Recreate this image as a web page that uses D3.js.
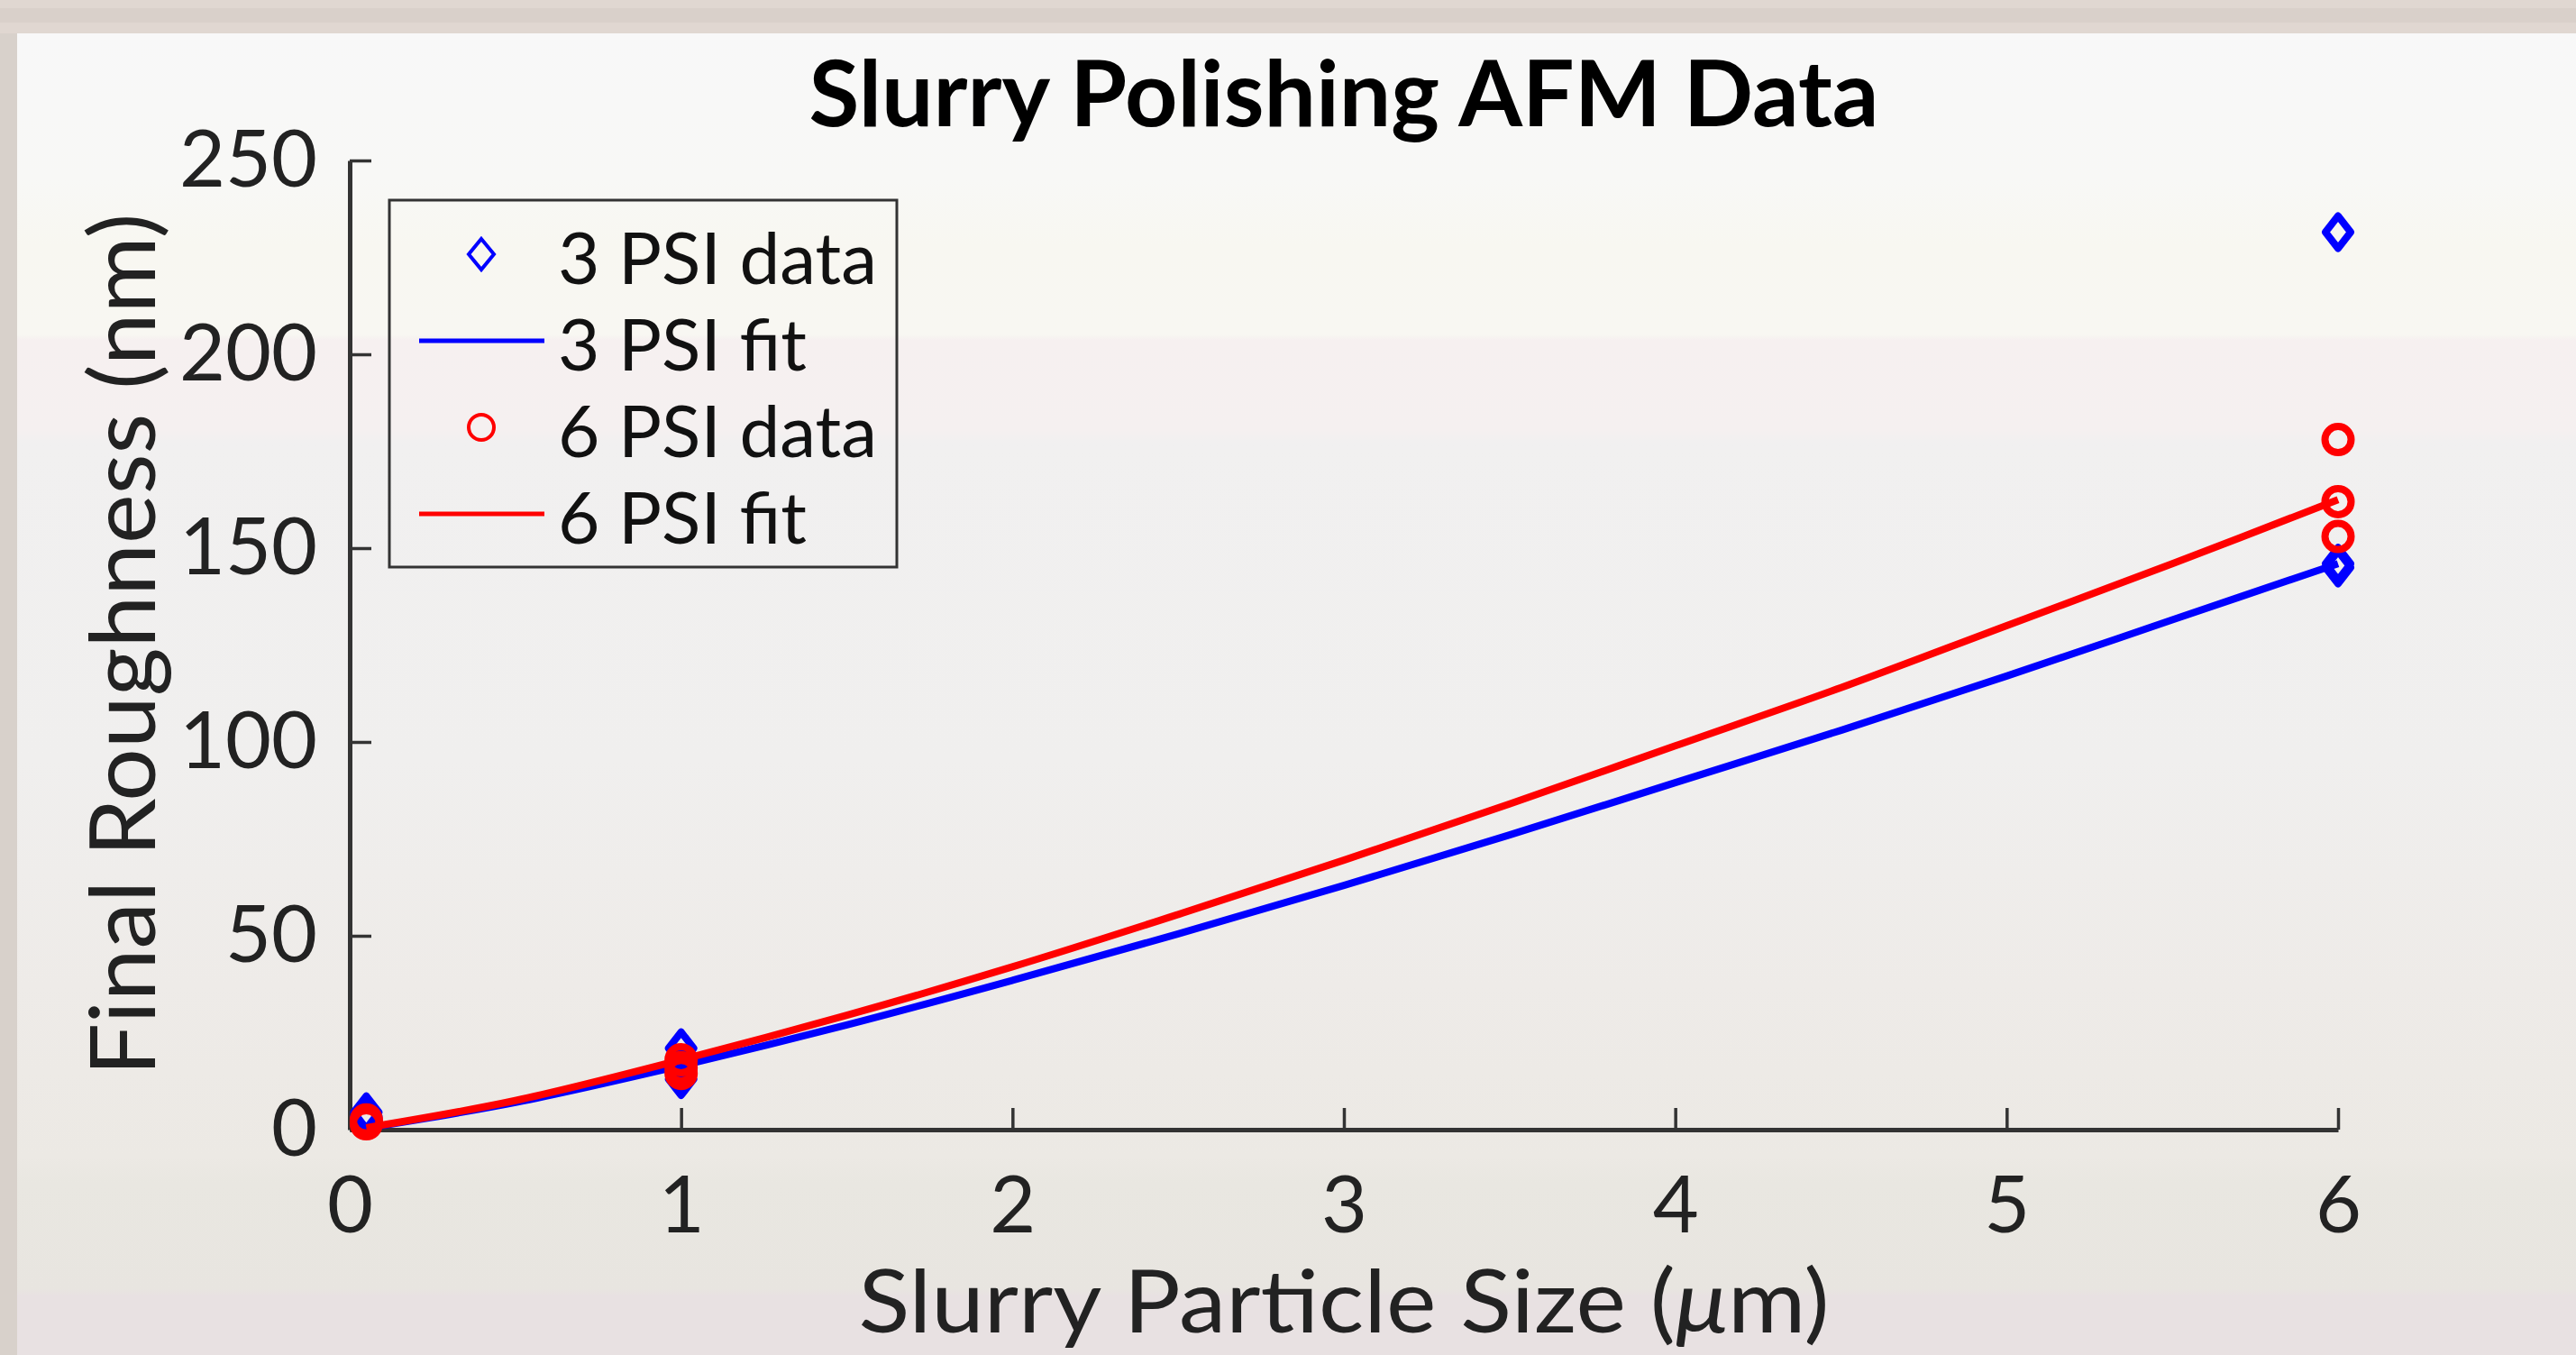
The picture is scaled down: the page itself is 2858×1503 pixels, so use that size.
<!DOCTYPE html>
<html>
<head>
<meta charset="utf-8">
<script src="https://cdn.jsdelivr.net/npm/d3@7"></script>
<style>
  html, body { margin: 0; padding: 0; background: #d8d1cb; }
  svg { display: block; }
</style>
</head>
<body>
<svg id="chart" width="2858" height="1503"></svg>
<script>
// ---------------- DATA ----------------
const xTicks = [0, 1, 2, 3, 4, 5, 6];
const yTicks = [0, 50, 100, 150, 200, 250];

const psi3DataX = [0.05, 0.05, 0.05, 1, 1, 1, 6, 6, 6];
const psi3DataY = [4.5, 3.5, 3, 21, 17, 13, 231.5, 146, 145];

const psi6DataX = [0.05, 0.05, 0.05, 1, 1, 1, 6, 6, 6];
const psi6DataY = [2, 1.5, 2.5, 18, 16, 14.5, 178, 162, 153];

const fitX   = [0.05, 0.5, 1, 1.5, 2, 2.5, 3, 3.5, 4, 4.5, 5, 5.5, 6];
const fit3Y  = [0.4, 7, 16.5, 27, 38.5, 50.5, 63, 76, 89.5, 103, 117, 131.5, 146];
const fit6Y  = [0.5, 7.5, 18, 29.5, 42, 55.5, 69.5, 84, 99, 114, 130, 146, 162.5];

const legendLabels = ["3 PSI data", "3 PSI fit", "6 PSI data", "6 PSI fit"];
const titleText = "Slurry Polishing AFM Data";
const yLabelText = "Final Roughness (nm)";

// ---------------- DRAW ----------------
const W = 2858, H = 1503;
const svg = d3.select("#chart");
const FONT = "Lato, 'Open Sans', 'DejaVu Sans', sans-serif";
const BLUE = "#0000ff", RED = "#ff0000", AX = "#333333";

const defs = svg.append("defs");
const grad = defs.append("linearGradient").attr("id", "bg")
  .attr("gradientUnits", "userSpaceOnUse")
  .attr("x1", 0).attr("x2", 0).attr("y1", 37).attr("y2", H);
[[0, "#f8f8f8"], [0.11, "#f8f8f6"], [0.16, "#f8f7f1"], [0.228, "#f8f7f2"],
 [0.232, "#f6f0f0"], [0.30, "#f5f0f0"], [0.31, "#f1f0f0"], [0.55, "#f0efee"],
 [0.72, "#eeebe8"], [0.85, "#ece9e4"], [0.87, "#e9e7e1"], [0.95, "#e8e5e0"],
 [0.955, "#e8e1e2"], [1, "#e8e1e2"]].forEach(([o, c]) =>
  grad.append("stop").attr("offset", o).attr("stop-color", c));

// outer frame
svg.append("rect").attr("width", W).attr("height", H).attr("fill", "#d8d1cb");
svg.append("rect").attr("x", 0).attr("y", 0).attr("width", W).attr("height", 9).attr("fill", "#e0d7d1");
svg.append("rect").attr("x", 0).attr("y", 9).attr("width", W).attr("height", 16).attr("fill", "#d9d0ca");
svg.append("rect").attr("x", 0).attr("y", 25).attr("width", W).attr("height", 12).attr("fill", "#e0d7d1");
// inner figure
svg.append("rect").attr("x", 19).attr("y", 37).attr("width", W - 19).attr("height", H - 37)
  .attr("fill", "url(#bg)");

const x = d3.scaleLinear().domain([0, 6]).range([388, 2594]);
const y = d3.scaleLinear().domain([0, 250]).range([1253, 178]);

// axes
const gx = svg.append("g").attr("transform", `translate(0,${y(0)})`)
  .call(d3.axisBottom(x).tickValues(xTicks).tickFormat(d3.format("d"))
    .tickSize(-24).tickSizeOuter(0).tickPadding(52));
const gy = svg.append("g").attr("transform", `translate(${x(0)},0)`)
  .call(d3.axisLeft(y).tickValues(yTicks).tickFormat(d3.format("d"))
    .tickSize(-24).tickSizeOuter(0).tickPadding(36));
[gx, gy].forEach(g => {
  g.attr("font-family", FONT).attr("font-size", 88);
  g.select(".domain").attr("stroke", AX).attr("stroke-width", 5);
  g.selectAll(".tick line").attr("stroke", AX).attr("stroke-width", 3.5);
  g.selectAll(".tick text").attr("fill", "#222");
});

// fit lines & markers
const line = d3.line().x((d, i) => x(fitX[i])).y(d => y(d)).curve(d3.curveCatmullRom.alpha(0.5));
function diamondPath(cx, cy, hw, hh) {
  const p = d3.path();
  p.moveTo(cx, cy - hh); p.lineTo(cx + hw, cy); p.lineTo(cx, cy + hh); p.lineTo(cx - hw, cy); p.closePath();
  return p.toString();
}

// 3 PSI data
svg.append("g").selectAll("path").data(psi3DataY).join("path")
  .attr("d", (d, i) => diamondPath(x(psi3DataX[i]), y(d), 14, 18))
  .attr("fill", "none").attr("stroke", BLUE).attr("stroke-width", 8).attr("stroke-linejoin", "round");
// 3 PSI fit
svg.append("path").datum(fit3Y).attr("d", line)
  .attr("fill", "none").attr("stroke", BLUE).attr("stroke-width", 8);
// 6 PSI data
svg.append("g").selectAll("circle").data(psi6DataY).join("circle")
  .attr("cx", (d, i) => x(psi6DataX[i])).attr("cy", d => y(d)).attr("r", 14.5)
  .attr("fill", "none").attr("stroke", RED).attr("stroke-width", 8);
// 6 PSI fit
svg.append("path").datum(fit6Y).attr("d", line)
  .attr("fill", "none").attr("stroke", RED).attr("stroke-width", 8);

// title
svg.append("text").attr("x", 1491).attr("y", 140)
  .attr("text-anchor", "middle").attr("font-family", FONT).attr("font-weight", "bold")
  .attr("font-size", 102).attr("fill", "#000")
  .attr("textLength", 1187).attr("lengthAdjust", "spacingAndGlyphs")
  .text(titleText);

// y label
svg.append("text").attr("transform", "translate(172,715) rotate(-90)")
  .attr("text-anchor", "middle").attr("font-family", FONT).attr("font-size", 100)
  .attr("fill", "#222").attr("textLength", 957).attr("lengthAdjust", "spacingAndGlyphs")
  .text(yLabelText);

// x label
const xl = svg.append("text").attr("x", 1491).attr("y", 1478)
  .attr("text-anchor", "middle").attr("font-family", FONT).attr("font-size", 96)
  .attr("fill", "#222").attr("textLength", 1077).attr("lengthAdjust", "spacingAndGlyphs");
xl.append("tspan").text("Slurry Particle Size (");
xl.append("tspan").attr("font-style", "italic").text("\u03bc");
xl.append("tspan").text("m)");

// legend
const lg = svg.append("g");
lg.append("rect").attr("x", 432).attr("y", 222).attr("width", 563).attr("height", 407)
  .attr("fill", "none").attr("stroke", AX).attr("stroke-width", 3);
const rowY = i => 282 + i * 96;
lg.append("path").attr("d", diamondPath(534, rowY(0), 14, 17))
  .attr("fill", "none").attr("stroke", BLUE).attr("stroke-width", 4);
lg.append("line").attr("x1", 465).attr("x2", 604).attr("y1", rowY(1)).attr("y2", rowY(1))
  .attr("stroke", BLUE).attr("stroke-width", 5);
lg.append("circle").attr("cx", 534).attr("cy", rowY(2)).attr("r", 14)
  .attr("fill", "none").attr("stroke", RED).attr("stroke-width", 4);
lg.append("line").attr("x1", 465).attr("x2", 604).attr("y1", rowY(3)).attr("y2", rowY(3))
  .attr("stroke", RED).attr("stroke-width", 5);
const lt = lg.selectAll("text.leg").data(legendLabels).join("text").attr("class", "leg")
  .attr("x", 619).attr("y", (d, i) => rowY(i) + 33)
  .attr("font-family", FONT).attr("font-size", 80).attr("fill", "#111").text(d => d);
const nat = lt.nodes().map(n => n.getComputedTextLength());
const sc = 354 / nat[0];
lt.attr("textLength", (d, i) => nat[i] * sc).attr("lengthAdjust", "spacingAndGlyphs");
</script>
</body>
</html>
